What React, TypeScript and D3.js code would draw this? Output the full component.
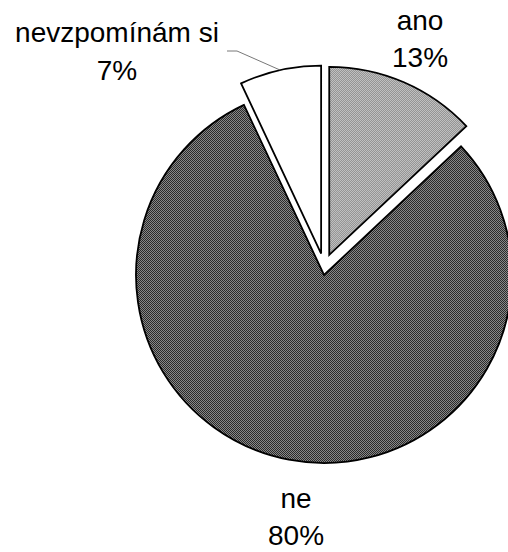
import React from 'react';
import * as d3 from 'd3';

const categories = ['ano', 'ne', 'nevzpomínám si'];
const values = [13, 80, 7];
const exploded = [true, false, true];
const fills = ['url(#ditherLight)', 'url(#ditherDark)', '#ffffff'];

const W = 508;
const H = 552;
const cx = 324;
const cy = 275;
const R = 188;
const EXPLODE = 22;

export default function App() {
  const pie = d3.pie<number>().sort(null).value(d => d)(values);
  const arc = d3.arc<d3.PieArcDatum<number>>().innerRadius(0).outerRadius(R);

  // excel pushes the pieces out mostly upward, so damp the sideways part a bit
  const offset = (d: d3.PieArcDatum<number>, i: number) => {
    if (!exploded[i]) return [0, 0];
    const mid = (d.startAngle + d.endAngle) / 2;
    return [Math.sin(mid) * EXPLODE * 0.6, -Math.cos(mid) * EXPLODE];
  };

  // label anchors (centre x, first baseline y) for each slice
  const labelPos = [
    [420, 30],
    [296, 508],
    [117, 42],
  ];

  const white = pie[2];
  const wOff = offset(white, 2);
  const wMid = (white.startAngle + white.endAngle) / 2;
  const lx = cx + wOff[0] + Math.sin(wMid) * R;
  const ly = cy + wOff[1] - Math.cos(wMid) * R;

  return (
    <svg width={W} height={H} style={{ position: 'absolute', left: 0, top: 0, background: '#fff' }}
      fontFamily="'Liberation Sans', Arial, sans-serif">
      <defs>
        <pattern id="ditherDark" width={2} height={2} patternUnits="userSpaceOnUse">
          <rect width={2} height={2} fill="#2a2a2a" />
          <rect width={1} height={1} fill="#888" />
          <rect x={1} y={1} width={1} height={1} fill="#888" />
        </pattern>
        <pattern id="ditherLight" width={2} height={2} patternUnits="userSpaceOnUse">
          <rect width={2} height={2} fill="#666" />
          <rect width={1} height={1} fill="#eee" />
          <rect x={1} y={1} width={1} height={1} fill="#eee" />
        </pattern>
      </defs>
      {pie.map((d, i) => {
        const [dx, dy] = offset(d, i);
        return (
          <path key={categories[i]} d={arc(d) || ''} transform={`translate(${cx + dx},${cy + dy})`}
            fill={fills[i]} stroke="#000" strokeWidth={1.8} strokeLinejoin="miter" />
        );
      })}
      <polyline points={`${labelPos[2][0] + 110},51 ${labelPos[2][0] + 120},51 ${lx},${ly}`}
        fill="none" stroke="#555" strokeWidth={0.8} />
      {categories.map((c, i) => (
        <text key={c} x={labelPos[i][0]} y={labelPos[i][1]} textAnchor="middle" fontSize={28} fill="#000">
          <tspan x={labelPos[i][0]}>{c}</tspan>
          <tspan x={labelPos[i][0]} dy={i === 2 ? 38 : 37}>{values[i]}%</tspan>
        </text>
      ))}
    </svg>
  );
}
